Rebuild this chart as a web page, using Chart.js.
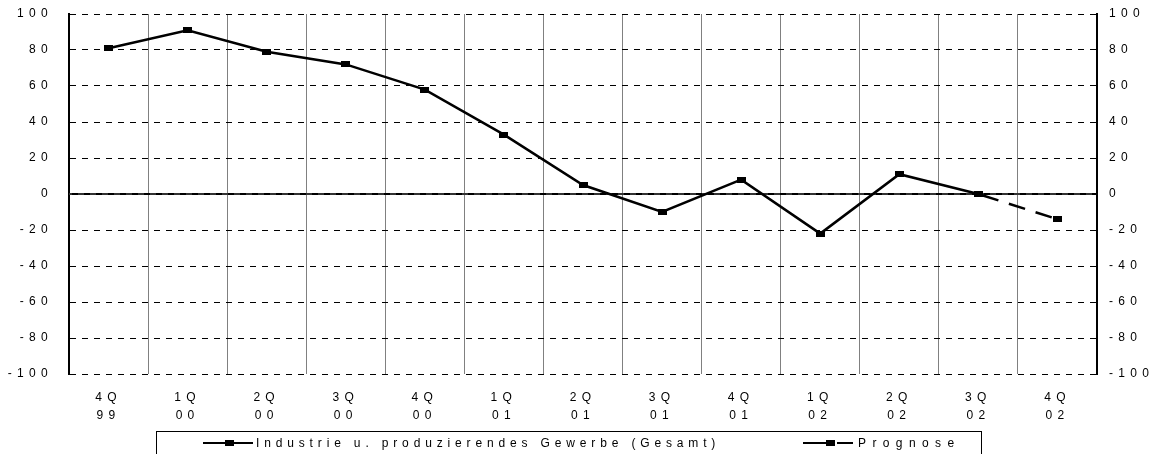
<!DOCTYPE html>
<html>
<head>
<meta charset="utf-8">
<script src="https://cdn.jsdelivr.net/npm/chart.js@4.4.0/dist/chart.umd.min.js"></script>
<style>
html,body{margin:0;padding:0;background:#fff;}
#wrap{position:relative;width:1159px;height:454px;overflow:hidden;background:#fff;}
#c{position:absolute;left:0;top:0;}
#legend{position:absolute;left:156px;top:431px;width:826px;height:40px;border:1px solid #000;box-sizing:border-box;}
.ln{position:absolute;height:2px;background:#000;}
.mk{position:absolute;width:9px;height:6px;background:#000;}
.lt{position:absolute;font-family:"Liberation Sans",Arial,sans-serif;font-size:12px;line-height:14px;color:#000;white-space:nowrap;}
</style>
</head>
<body>
<div id="wrap">
  <canvas id="c" width="1159" height="454"></canvas>
  <div id="legend"></div>
  <div class="ln" style="left:203px;top:442px;width:50px;"></div>
  <div class="mk" style="left:225px;top:440px;"></div>
  <span class="lt" style="left:256px;top:436px;letter-spacing:4.85px;">Industrie u. produzierendes Gewerbe (Gesamt)</span>
  <div class="ln" style="left:803px;top:442px;width:24px;"></div>
  <div class="mk" style="left:826px;top:440px;"></div>
  <div class="ln" style="left:837px;top:442px;width:16px;"></div>
  <span class="lt" style="left:858px;top:436px;letter-spacing:6.4px;">Prognose</span>
</div>
<script>
const categories = [['4Q','99'],['1Q','00'],['2Q','00'],['3Q','00'],['4Q','00'],['1Q','01'],['2Q','01'],['3Q','01'],['4Q','01'],['1Q','02'],['2Q','02'],['3Q','02'],['4Q','02']];
const industrie = [81, 91, 79, 72, 58, 33, 5, -10, 8, -22, 11, 0, null];
const prognose  = [null, null, null, null, null, null, null, null, null, null, null, 0, -14];
const yMin = -100, yMax = 100, yStep = 20;

const FONT = '"Liberation Sans", Arial, sans-serif';
const LS = '5.3px';

const marker = document.createElement('canvas');
marker.width = 9; marker.height = 6;
const mctx = marker.getContext('2d');
mctx.fillStyle = '#000';
mctx.fillRect(0, 0, 9, 6);

const spacingPlugin = {
  id: 'letterSpacing',
  beforeUpdate(chart){ chart.ctx.letterSpacing = LS; },
  beforeLayout(chart){ chart.ctx.letterSpacing = LS; },
  beforeDraw(chart){ chart.ctx.letterSpacing = LS; }
};

const zeroLine = {
  id: 'zeroLine',
  beforeDatasetsDraw(chart){
    const ctx = chart.ctx;
    const y = Math.round(chart.scales.y.getPixelForValue(0));
    const {left, right} = chart.chartArea;
    ctx.save();
    ctx.lineWidth = 2;
    ctx.strokeStyle = '#333';
    ctx.beginPath();
    ctx.moveTo(left, y); ctx.lineTo(right, y);
    ctx.stroke();
    ctx.strokeStyle = '#000';
    ctx.setLineDash([6, 6]);
    ctx.beginPath();
    ctx.moveTo(left + 3, y); ctx.lineTo(right, y);
    ctx.stroke();
    ctx.restore();
  }
};

Chart.defaults.font.family = FONT;
Chart.defaults.color = '#000';

function vPad(s){ s.paddingTop = 7; s.paddingBottom = 7; }

new Chart(document.getElementById('c'), {
  type: 'line',
  data: {
    labels: categories,
    datasets: [
      {
        label: 'Industrie u. produzierendes Gewerbe (Gesamt)',
        data: industrie,
        borderColor: '#000',
        borderWidth: 2.5,
        pointStyle: marker,
        pointRadius: 5,
        tension: 0,
        fill: false,
        spanGaps: false
      },
      {
        label: 'Prognose',
        data: prognose,
        borderColor: '#000',
        borderWidth: 2.5,
        borderDash: [17, 11],
        borderDashOffset: -4,
        pointStyle: marker,
        pointRadius: 5,
        tension: 0,
        fill: false
      }
    ]
  },
  options: {
    responsive: false,
    animation: false,
    events: [],
    layout: { padding: { top: 14, left: 0, right: 0, bottom: 0 } },
    plugins: { legend: { display: false }, tooltip: { enabled: false } },
    scales: {
      x: {
        type: 'category',
        offset: true,
        grid: { offset: true, color: '#808080', lineWidth: 1, drawTicks: false },
        border: { display: false },
        ticks: { maxRotation: 0, autoSkip: false, padding: 15, font: { size: 12, lineHeight: 1.5 }, color: '#000' },
        afterFit(s){ s.height = 80; }
      },
      y: {
        position: 'left',
        min: yMin, max: yMax,
        ticks: { stepSize: yStep, padding: 16, font: { size: 12 }, color: '#000' },
        grid: { color: '#000', lineWidth: c => (c.tick && c.tick.value === 0) ? 0 : 1, drawTicks: false },
        border: { display: true, color: '#000', width: 2, dash: [6, 6] },
        afterFit(s){ s.width = 69; vPad(s); }
      },
      y2: {
        position: 'right',
        min: yMin, max: yMax,
        ticks: { stepSize: yStep, padding: 12, font: { size: 12 }, color: '#000' },
        grid: { display: false, drawTicks: false },
        border: { display: true, color: '#000', width: 2 },
        afterFit(s){ s.width = 62; vPad(s); }
      }
    }
  },
  plugins: [spacingPlugin, zeroLine]
});
</script>
</body>
</html>
